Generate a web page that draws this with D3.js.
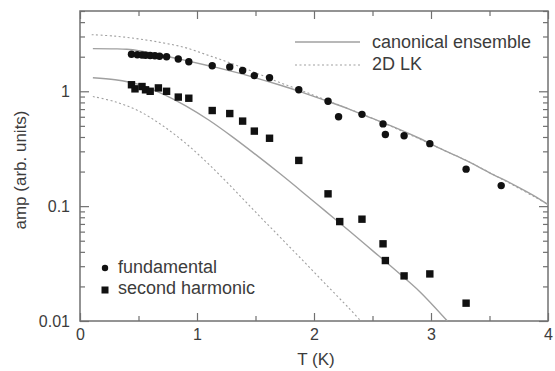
<!DOCTYPE html>
<html><head><meta charset="utf-8">
<script src="https://cdn.jsdelivr.net/npm/d3@7"></script>
<style>body{margin:0;background:#fff}svg{display:block}text{font-family:"Liberation Sans",Arial,sans-serif}</style>
</head><body><svg id="c" width="555" height="371"></svg>
<script>
// ---- data ----
const fundT = [0.44,0.49,0.53,0.56,0.60,0.64,0.68,0.74,0.84,0.93,1.13,1.28,1.39,1.49,1.62,1.87,2.12,2.21,2.41,2.59,2.61,2.77,2.99,3.30,3.60];
const fundV = [2.10,2.08,2.07,2.06,2.05,2.04,2.02,2.00,1.91,1.81,1.67,1.63,1.52,1.37,1.31,1.03,0.82,0.60,0.63,0.52,0.42,0.41,0.35,0.21,0.151];
const harmT = [0.44,0.47,0.53,0.56,0.60,0.67,0.74,0.84,0.93,1.13,1.28,1.39,1.49,1.62,1.87,2.12,2.22,2.41,2.59,2.61,2.77,2.99,3.30];
const harmV = [1.14,1.05,1.10,1.03,1.00,1.07,1.00,0.89,0.87,0.68,0.64,0.55,0.45,0.39,0.25,0.128,0.0734,0.077,0.047,0.0336,0.0247,0.0257,0.0143];
const canonFundT = [0.11,0.3,0.4,0.5,0.7,0.9,1.1,1.3,1.5,1.7,1.9,2.1,2.3,2.5,2.7,2.9,3.1,3.3,3.5,3.7,3.9,4.0];
const canonFundV = [2.35,2.34,2.32,2.26,2.06,1.86,1.67,1.49,1.31,1.14,0.98,0.83,0.70,0.58,0.48,0.39,0.31,0.25,0.195,0.155,0.12,0.103];
const lkFundT = [0.1,0.3,0.5,0.7,0.9,1.1,1.3,1.5,1.7,1.9,2.1,2.3,2.5,2.7,2.9,3.1,3.3,3.5,3.7,3.9,4.0];
const lkFundV = [3.11,3.02,2.86,2.65,2.40,2.05,1.74,1.45,1.20,1.01,0.84,0.70,0.58,0.475,0.385,0.31,0.25,0.196,0.153,0.118,0.104];
const canonHarmT = [0.11,0.3,0.5,0.7,0.9,1.1,1.3,1.5,1.7,1.9,2.1,2.3,2.5,2.7,2.9,3.14];
const canonHarmV = [1.31,1.26,1.15,0.955,0.75,0.562,0.403,0.282,0.195,0.133,0.090,0.061,0.041,0.0275,0.0182,0.01];
const lkHarmT = [0.11,0.3,0.5,0.7,0.9,1.1,1.3,1.5,1.7,1.9,2.1,2.3,2.4];
const lkHarmV = [0.90,0.81,0.676,0.507,0.355,0.232,0.145,0.089,0.055,0.034,0.0209,0.0129,0.01];
const xTicks = [0,1,2,3,4];
const xMinor = [0.5,1.5,2.5,3.5];
const yTicks = [0.01,0.1,1];
const yTickLabels = ["0.01","0.1","1"];
const yMinor = [0.02,0.03,0.04,0.05,0.06,0.07,0.08,0.09,0.2,0.3,0.4,0.5,0.6,0.7,0.8,0.9,2,3,4,5];
const legendLines = ["canonical ensemble","2D LK"];
const legendMarks = ["fundamental","second harmonic"];
const xTitle = "T (K)", yTitle = "amp (arb. units)";

// ---- layout ----
const L=80,R=548,T=11,B=321;
const x = d3.scaleLinear().domain([0,4]).range([L,R]);
const y = d3.scaleLog().domain([0.01,5]).range([B,T]);
const svg = d3.select("#c");
const axisCol="#707070", txtCol="#3c3c3c", curveCol="#a0a0a0";

svg.append("clipPath").attr("id","clip").append("rect").attr("x",L).attr("y",T).attr("width",R-L).attr("height",B-T);

function axis(gen, tx, ty, vals, size, labels, pad){
  const g = svg.append("g").attr("transform",`translate(${tx},${ty})`)
    .call(gen.tickValues(vals).tickSize(size).tickPadding(pad).tickFormat(labels));
  g.select(".domain").remove();
  g.selectAll("line").attr("stroke",axisCol).attr("stroke-width",1.2);
  g.selectAll("text").attr("fill",txtCol).attr("font-size",16).attr("font-family",'"Liberation Sans",Arial,sans-serif');
  return g;
}
axis(d3.axisBottom(x),0,B,xTicks,-8,d=>String(d),8);
axis(d3.axisBottom(x),0,B,xMinor,-5,()=>"",8);
axis(d3.axisTop(x),0,T,xTicks,-8,()=>"",3);
axis(d3.axisTop(x),0,T,xMinor,-5,()=>"",3);
axis(d3.axisLeft(y),L,0,yTicks,-9,(d,i)=>yTickLabels[i],10);
axis(d3.axisLeft(y),L,0,yMinor,-5,()=>"",10);
axis(d3.axisRight(y),R,0,yTicks,-9,()=>"",3);
axis(d3.axisRight(y),R,0,yMinor,-5,()=>"",3);

svg.append("rect").attr("x",L).attr("y",T).attr("width",R-L).attr("height",B-T)
  .attr("fill","none").attr("stroke",axisCol).attr("stroke-width",1.5);

// curves
const line = d3.line().x(d=>x(d[0])).y(d=>y(d[1])).curve(d3.curveCatmullRom.alpha(0.5));
const cg = svg.append("g").attr("clip-path","url(#clip)");
function curve(ts,vs,dashed){
  cg.append("path").attr("d",line(ts.map((t,i)=>[t,vs[i]])))
    .attr("fill","none").attr("stroke",curveCol)
    .attr("stroke-width",dashed?1.1:1.4)
    .attr("stroke-dasharray",dashed?"2,2.5":null);
}
curve(canonFundT,canonFundV,false);
curve(lkFundT,lkFundV,true);
curve(canonHarmT,canonHarmV,false);
curve(lkHarmT,lkHarmV,true);

// markers
svg.append("g").selectAll("circle").data(fundT).join("circle")
  .attr("cx",d=>x(d)).attr("cy",(d,i)=>y(fundV[i])).attr("r",3.7).attr("fill","#111");
svg.append("g").selectAll("rect").data(harmT).join("rect")
  .attr("x",d=>x(d)-3.7).attr("y",(d,i)=>y(harmV[i])-3.7).attr("width",7.4).attr("height",7.4).attr("fill","#111");

// legends
const lg = svg.append("g");
lg.append("line").attr("x1",295).attr("x2",360).attr("y1",42).attr("y2",42).attr("stroke","#b8b8b8").attr("stroke-width",2.2);
lg.append("line").attr("x1",295).attr("x2",360).attr("y1",65).attr("y2",65).attr("stroke",curveCol).attr("stroke-width",1.1).attr("stroke-dasharray","2,2.5");
lg.selectAll("text.l").data(legendLines).join("text").attr("class","l")
  .attr("x",372).attr("y",(d,i)=>42+i*21.5).attr("dy","0.35em")
  .attr("font-size",18).attr("fill",txtCol).text(d=>d);
lg.append("circle").attr("cx",105).attr("cy",268).attr("r",3.2).attr("fill","#111");
lg.append("rect").attr("x",101.5).attr("y",286.5).attr("width",7).attr("height",7).attr("fill","#111");
lg.selectAll("text.m").data(legendMarks).join("text").attr("class","m")
  .attr("x",118).attr("y",(d,i)=>267+i*21).attr("dy","0.35em")
  .attr("font-size",18).attr("fill",txtCol).text(d=>d);

// titles
svg.append("text").attr("x",316).attr("y",359).attr("dy","0.35em").attr("text-anchor","middle")
  .attr("font-size",17).attr("fill",txtCol).text(xTitle);
svg.append("text").attr("transform","translate(20,170) rotate(-90)").attr("dy","0.35em").attr("text-anchor","middle")
  .attr("font-size",17).attr("fill",txtCol).text(yTitle);
</script></body></html>
